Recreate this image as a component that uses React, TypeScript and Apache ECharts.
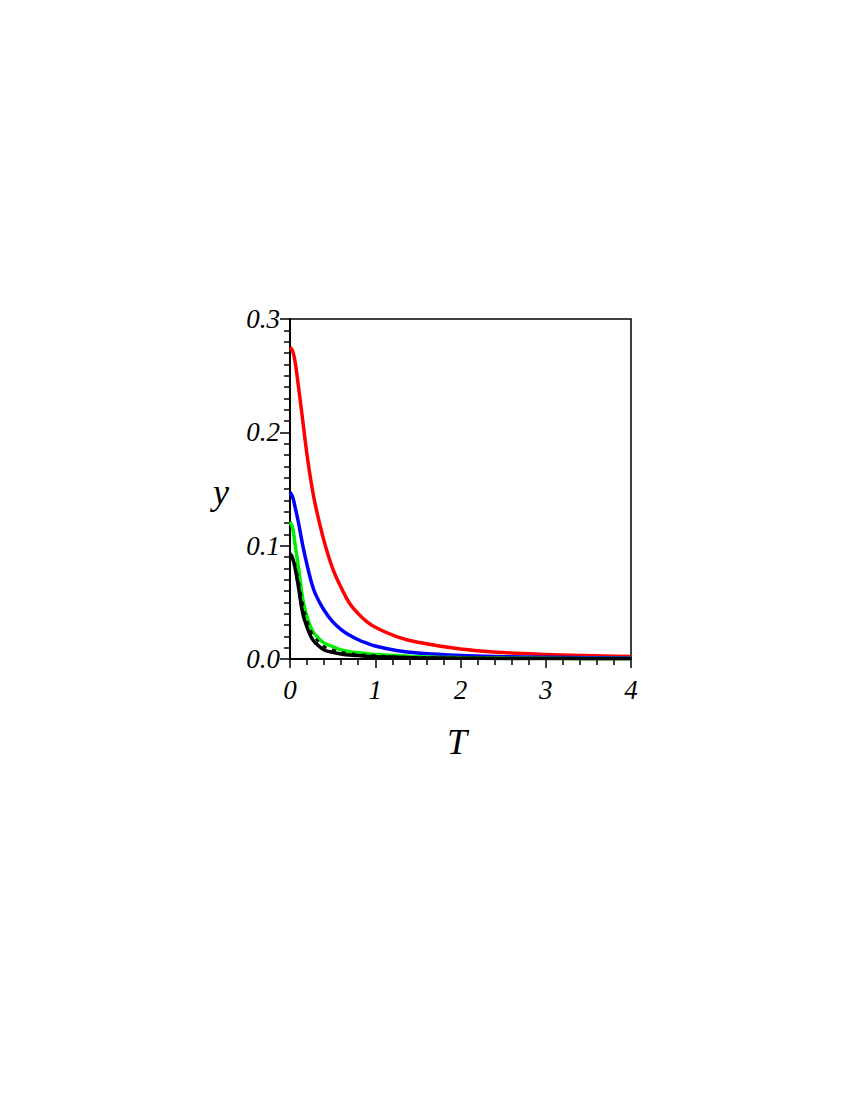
import React, { useEffect, useRef } from "react";
import * as echarts from "echarts";

const T = [0, 0.03, 0.06, 0.1, 0.15, 0.2, 0.25, 0.3, 0.4, 0.5, 0.6, 0.7, 0.8, 0.9, 1.0, 1.25, 1.5, 2, 2.5, 3, 3.5, 4];
const redVals = [0.275, 0.272, 0.262, 0.24, 0.21, 0.18, 0.155, 0.135, 0.104, 0.08, 0.063, 0.049, 0.04, 0.033, 0.028, 0.0198, 0.0147, 0.0088, 0.0057, 0.004, 0.003, 0.0023];
const blueVals = [0.147, 0.143, 0.134, 0.12, 0.1, 0.083, 0.068, 0.057, 0.043, 0.033, 0.026, 0.021, 0.017, 0.014, 0.0115, 0.0075, 0.0052, 0.003, 0.002, 0.0015, 0.0011, 0.0008];
const greenVals = [0.121, 0.116, 0.101, 0.08, 0.053, 0.037, 0.027, 0.021, 0.014, 0.011, 0.008, 0.0065, 0.0055, 0.0047, 0.004, 0.003, 0.002, 0.0012, 0.0008, 0.0006, 0.0005, 0.0004];
const blackVals = [0.093, 0.089, 0.08, 0.063, 0.04, 0.028, 0.019, 0.014, 0.008, 0.006, 0.0045, 0.0035, 0.003, 0.0025, 0.002, 0.0015, 0.001, 0.0007, 0.0005, 0.0004, 0.0003, 0.0002];
const blackDashVals = [0.093, 0.09, 0.083, 0.069, 0.048, 0.034, 0.024, 0.018, 0.011, 0.008, 0.006, 0.005, 0.004, 0.0035, 0.003, 0.002, 0.0015, 0.001, 0.0007, 0.0005, 0.0004, 0.0003];

const xTicks = [0, 1, 2, 3, 4];
const yTicks = [0, 0.1, 0.2, 0.3];

const pairs = (vals: number[]) => T.map((t, i) => [t, vals[i]]);

const labelFont = {
  fontFamily: "Liberation Serif",
  fontStyle: "italic" as const,
  fontSize: 27,
  color: "#000",
};

export default function App() {
  const ref = useRef<HTMLDivElement>(null);
  useEffect(() => {
    if (!ref.current) return;
    const chart = echarts.init(ref.current, null, { renderer: "svg" });
    const line = (vals: number[], color: string, type: any = "solid", width = 3.5) => ({
      type: "line",
      data: pairs(vals),
      showSymbol: false,
      smooth: 0.4,
      lineStyle: { color, width, type },
      z: 3,
    });
    chart.setOption({
      animation: false,
      backgroundColor: "#fff",
      grid: {
        left: 290,
        top: 319,
        width: 341,
        height: 340,
        show: true,
        borderColor: "#000",
        borderWidth: 1.5,
        backgroundColor: "transparent",
      },
      xAxis: {
        type: "value",
        min: xTicks[0],
        max: xTicks[xTicks.length - 1],
        interval: 1,
        axisLine: { show: true, onZero: false, lineStyle: { color: "#000", width: 2 } },
        axisTick: { show: true, length: 9, lineStyle: { color: "#000", width: 1.5 } },
        minorTick: { show: true, splitNumber: 5, length: 6, lineStyle: { color: "#000", width: 1.5 } },
        splitLine: { show: false },
        axisLabel: { ...labelFont, margin: 17, formatter: (v: number) => String(v) },
      },
      yAxis: {
        type: "value",
        min: yTicks[0],
        max: yTicks[yTicks.length - 1],
        interval: 0.1,
        axisLine: { show: true, onZero: false, lineStyle: { color: "#000", width: 2 } },
        axisTick: { show: true, length: 10, lineStyle: { color: "#000", width: 1.5 } },
        minorTick: { show: true, splitNumber: 10, length: 6, lineStyle: { color: "#000", width: 1.5 } },
        splitLine: { show: false },
        axisLabel: { ...labelFont, margin: 10, formatter: (v: number) => v.toFixed(1) },
      },
      graphic: [
        {
          type: "text",
          left: 213,
          top: 474,
          style: { text: "y", fontFamily: "Liberation Serif", fontStyle: "italic", fontSize: 36, fill: "#000" },
        },
        {
          type: "text",
          left: 447,
          top: 724,
          style: { text: "T", fontFamily: "Liberation Serif", fontStyle: "italic", fontSize: 36, fill: "#000" },
        },
      ],
      series: [
        line(redVals, "#ff0000"),
        line(blueVals, "#0000ff"),
        line(greenVals, "#00ee00"),
        line(blackVals, "#000000"),
        line(blackDashVals, "#000000", [4, 6], 2.5),
      ],
    });
    return () => chart.dispose();
  }, []);
  return (
    <div
      ref={ref}
      style={{ position: "absolute", left: 0, top: 0, width: 850, height: 1100, background: "#fff" }}
    />
  );
}
